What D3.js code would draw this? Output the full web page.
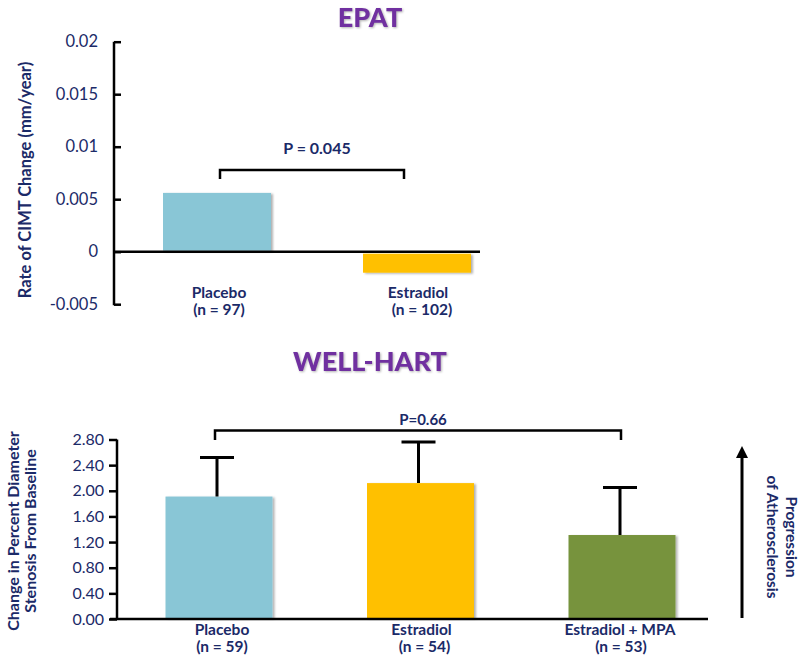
<!DOCTYPE html>
<html><head><meta charset="utf-8">
<script src="https://cdn.jsdelivr.net/npm/d3@7"></script>
<style>
body{margin:0;background:#fff;}
text{font-family:Lato,"Open Sans",sans-serif;}
</style></head>
<body>
<svg id="c" width="800" height="655"></svg>
<script>
// ---- EPAT data ----
const epatCategories = ["Placebo", "Estradiol"];
const epatN = ["(n = 97)", "(n = 102)"];
const epatValues = [0.0056, -0.0020];
const epatTicks = [-0.005, 0, 0.005, 0.01, 0.015, 0.02];
const epatTickLabels = ["-0.005", "0", "0.005", "0.01", "0.015", "0.02"];
const epatP = "P = 0.045";

// ---- WELL-HART data ----
const wellCategories = ["Placebo", "Estradiol", "Estradiol + MPA"];
const wellN = ["(n = 59)", "(n = 54)", "(n = 53)"];
const wellValues = [1.91, 2.12, 1.31];
const wellErrTop = [2.52, 2.76, 2.05];
const wellTicks = [0, 0.4, 0.8, 1.2, 1.6, 2.0, 2.4, 2.8];
const wellP = "P=0.66";

const barColors = ["#89C6D6", "#FFC000", "#77933C"];
const navy = "#1B2A68";
const purple = "#7030A0";

const svg = d3.select("#c");
const defs = svg.append("defs");
const f = defs.append("filter").attr("id","sh").attr("x","-10%").attr("y","-10%").attr("width","130%").attr("height","130%");
f.append("feDropShadow").attr("dx",2).attr("dy",1).attr("stdDeviation",1.2).attr("flood-color","#000").attr("flood-opacity",0.3);

// ================= EPAT =================
svg.append("text").attr("x",370).attr("y",27).attr("text-anchor","middle")
  .attr("font-size",27).attr("font-weight",900).attr("fill",purple)
  .style("filter","drop-shadow(1px 1px 1px rgba(0,0,0,0.3))").text("EPAT");

const y1 = d3.scaleLinear().domain([-0.005, 0.02]).range([304.2, 41.7]);
const x1c = d3.scalePoint().domain(epatCategories).range([217, 417]);
const bw1 = 108;

const g1 = svg.append("g");
const ax1 = d3.axisRight(y1).tickValues(epatTicks).tickSize(7).tickFormat(()=>"");
const a1 = g1.append("g").attr("transform","translate(114,0)").call(ax1);
a1.select(".domain").attr("stroke","#000").attr("stroke-width",2.5).attr("d",`M0,${y1(0.02)}V${y1(-0.005)+1}`);
a1.selectAll(".tick line").attr("stroke","#000").attr("stroke-width",2.5);
g1.selectAll(".tl1").data(epatTicks).join("text").attr("class","tl1")
  .attr("x",98).attr("y",d=>y1(d)+5.5).attr("text-anchor","end")
  .attr("font-size",16.5).attr("fill",navy).text((d,i)=>epatTickLabels[i]);

// bars
g1.selectAll(".b1").data(epatValues).join("rect").attr("class","b1")
  .attr("x",(d,i)=>x1c(epatCategories[i])-bw1/2)
  .attr("y",d=>d>=0? y1(d): y1(0)+2)
  .attr("width",bw1)
  .attr("height",d=>d>=0? y1(0)-y1(d)-1 : y1(d)-y1(0)-2)
  .attr("fill",(d,i)=>barColors[i]).attr("filter","url(#sh)");
// zero line
g1.append("line").attr("x1",114).attr("x2",480).attr("y1",y1(0)).attr("y2",y1(0))
  .attr("stroke","#000").attr("stroke-width",2.5);

// bracket
const bx0 = x1c("Placebo")+3, bx1 = x1c("Estradiol")-13;
g1.append("path").attr("d",`M${bx0},179V170H${bx1}V179`).attr("fill","none").attr("stroke","#000").attr("stroke-width",2.5);
g1.append("text").attr("x",317).attr("y",154).attr("text-anchor","middle").attr("font-size",16).attr("font-weight",700).attr("fill",navy).text(epatP);

// category labels
g1.selectAll(".c1").data(epatCategories).join("text").attr("class","c1")
  .attr("x",(d,i)=>x1c(d)+ (i?1:2)).attr("y",298).attr("text-anchor","middle")
  .attr("font-size",15.5).attr("font-weight",700).attr("fill",navy).text(d=>d);
g1.selectAll(".n1").data(epatN).join("text").attr("class","n1")
  .attr("x",(d,i)=>x1c(epatCategories[i])+(i?5:2)).attr("y",315).attr("text-anchor","middle")
  .attr("font-size",15.5).attr("font-weight",700).attr("fill",navy).text(d=>d);

// y title
svg.append("text").attr("transform","translate(31,180) rotate(-90)").attr("text-anchor","middle")
  .attr("font-size",16.5).attr("font-weight",700).attr("fill",navy).text("Rate of CIMT Change (mm/year)");

// ================= WELL-HART =================
svg.append("text").attr("x",370).attr("y",371).attr("text-anchor","middle")
  .attr("font-size",27).attr("font-weight",900).attr("fill",purple)
  .style("filter","drop-shadow(1px 1px 1px rgba(0,0,0,0.3))").text("WELL-HART");

const y2 = d3.scaleLinear().domain([0, 2.8]).range([619, 439.5]);
const x2c = d3.scalePoint().domain(wellCategories).range([217, 620]);
const bw2 = 107;
const g2 = svg.append("g");

const ax2 = d3.axisLeft(y2).tickValues(wellTicks).tickSize(8).tickFormat(d3.format(".2f"));
const a2 = g2.append("g").attr("transform","translate(117,0)").call(ax2);
a2.select(".domain").attr("stroke","#000").attr("stroke-width",2.5).attr("d",`M0,${y2(2.8)}V${y2(0)}`);
a2.selectAll(".tick line").attr("stroke","#000").attr("stroke-width",2.5);
a2.selectAll(".tick text").attr("font-family","Lato, sans-serif").attr("font-size",16).attr("fill",navy).attr("x",-13);

// bars
g2.selectAll(".b2").data(wellValues).join("rect").attr("class","b2")
  .attr("x",(d,i)=>x2c(wellCategories[i])-bw2/2+2)
  .attr("y",d=>y2(d)).attr("width",bw2).attr("height",d=>y2(0)-y2(d)-1)
  .attr("fill",(d,i)=>barColors[i]).attr("filter","url(#sh)");
// error bars
g2.selectAll(".e2").data(wellErrTop).join("path").attr("class","e2")
  .attr("d",(d,i)=>{const cx=x2c(wellCategories[i]); return `M${cx},${y2(wellValues[i])}V${y2(d)}M${cx-17},${y2(d)}H${cx+17}`;})
  .attr("stroke","#000").attr("stroke-width",3).attr("fill","none");
// baseline
g2.append("line").attr("x1",110).attr("x2",708).attr("y1",y2(0)).attr("y2",y2(0)).attr("stroke","#000").attr("stroke-width",2.5);

// bracket
g2.append("path").attr("d",`M215,440V430.5H621V440`).attr("fill","none").attr("stroke","#000").attr("stroke-width",2.5);
g2.append("text").attr("x",423).attr("y",425).attr("text-anchor","middle").attr("font-size",15).attr("font-weight",700).attr("fill",navy).text(wellP);

// category labels
g2.selectAll(".c2").data(wellCategories).join("text").attr("class","c2")
  .attr("x",(d,i)=>x2c(d)+[5,3,0][i]).attr("y",635).attr("text-anchor","middle")
  .attr("font-size",15.5).attr("font-weight",700).attr("fill",navy).text(d=>d);
g2.selectAll(".n2").data(wellN).join("text").attr("class","n2")
  .attr("x",(d,i)=>x2c(wellCategories[i])+[5,6,1][i]).attr("y",652).attr("text-anchor","middle")
  .attr("font-size",15.5).attr("font-weight",700).attr("fill",navy).text(d=>d);

// y title
const yt = svg.append("text").attr("transform","translate(0,531) rotate(-90)").attr("text-anchor","middle")
  .attr("font-size",16).attr("font-weight",700).attr("fill",navy);
yt.append("tspan").attr("x",0).attr("y",19).text("Change in Percent Diameter");
yt.append("tspan").attr("x",0).attr("y",36).text("Stenosis From Baseline");

// arrow
defs.append("marker").attr("id","ah").attr("viewBox","0 0 10 10").attr("refX",5).attr("refY",5)
  .attr("markerWidth",4).attr("markerHeight",4).attr("orient","auto")
  .append("path").attr("d","M0,0L10,5L0,10z").attr("fill","#000");
svg.append("line").attr("x1",742).attr("x2",742).attr("y1",618).attr("y2",452)
  .attr("stroke","#000").attr("stroke-width",3).attr("marker-end","url(#ah)");

const rt = svg.append("text").attr("transform","translate(798,537) rotate(90)").attr("text-anchor","middle")
  .attr("font-size",15.5).attr("font-weight",700).attr("fill",navy);
rt.append("tspan").attr("x",0).attr("y",12).text("Progression");
rt.append("tspan").attr("x",0).attr("y",31).text("of Atherosclerosis");
</script>
</body></html>
